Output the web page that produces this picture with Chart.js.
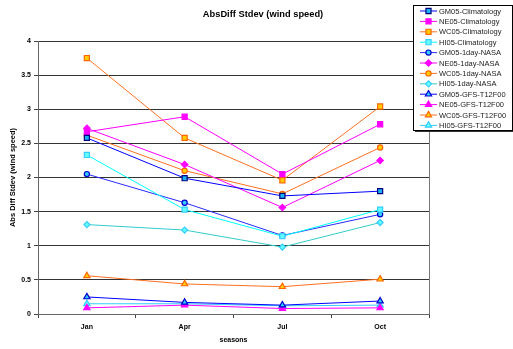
<!DOCTYPE html>
<html>
<head>
<meta charset="utf-8">
<script src="https://cdn.jsdelivr.net/npm/chart.js@4/dist/chart.umd.min.js"></script>
<style>
  html, body { margin: 0; padding: 0; background: #fff; }
  #wrap { width: 513px; height: 349px; }
</style>
</head>
<body>
<div id="wrap"><canvas id="c" width="513" height="349"></canvas></div>
<script>
// Seasons on the x axis
const seasons = ['Jan', 'Apr', 'Jul', 'Oct'];
const yTicks = [0, 0.5, 1, 1.5, 2, 2.5, 3, 3.5, 4];

// Abs diff stdev of wind speed per region / source
const gm05Clim = [2.58, 1.99, 1.73, 1.80];
const ne05Clim = [2.67, 2.89, 2.05, 2.78];
const wc05Clim = [3.75, 2.58, 1.96, 3.04];
const hi05Clim = [2.33, 1.53, 1.14, 1.53];
const gm05Nasa = [2.05, 1.63, 1.15, 1.46];
const ne05Nasa = [2.72, 2.19, 1.56, 2.25];
const wc05Nasa = [2.62, 2.10, 1.76, 2.44];
const hi05Nasa = [1.31, 1.23, 0.98, 1.34];
const gm05Gfs = [0.25, 0.17, 0.13, 0.19];
const ne05Gfs = [0.09, 0.13, 0.08, 0.09];
const wc05Gfs = [0.56, 0.44, 0.40, 0.51];
const hi05Gfs = [0.15, 0.15, 0.12, 0.13];

const FONT = '"Liberation Sans", Arial, sans-serif';

function series(label, data, line, style, fill, edge, radius) {
  return {
    label, data,
    borderColor: line, borderWidth: 1,
    pointStyle: style, pointRadius: radius,
    pointBackgroundColor: fill, pointBorderColor: edge, pointBorderWidth: 1.2,
    tension: 0, fill: false
  };
}

const datasets = [
  series('GM05-Climatology', gm05Clim, '#0000ff', 'rect', '#1ab2f0', '#000080', 3.6),
  series('NE05-Climatology', ne05Clim, '#ff00ff', 'rect', '#ff00ff', '#ff00ff', 3.6),
  series('WC05-Climatology', wc05Clim, '#ff7020', 'rect', '#ffcc00', '#ff6600', 3.6),
  series('HI05-Climatology', hi05Clim, '#00ffff', 'rect', '#66ffff', '#33ccff', 3.6),
  series('GM05-1day-NASA', gm05Nasa, '#2a2aff', 'circle', '#33ccff', '#0000cc', 2.6),
  series('NE05-1day-NASA', ne05Nasa, '#ff00ff', 'rectRot', '#ff00ff', '#ff00ff', 3.2),
  series('WC05-1day-NASA', wc05Nasa, '#ff7020', 'circle', '#ffcc00', '#ff6600', 2.6),
  series('HI05-1day-NASA', hi05Nasa, '#33cccc', 'rectRot', '#66ffff', '#33ccff', 3.0),
  series('GM05-GFS-T12F00', gm05Gfs, '#0000ff', 'triangle', '#33ccff', '#0000cc', 3.6),
  series('NE05-GFS-T12F00', ne05Gfs, '#ff00ff', 'triangle', '#ff00ff', '#ff00ff', 3.6),
  series('WC05-GFS-T12F00', wc05Gfs, '#ff7020', 'triangle', '#ffcc00', '#ff6600', 3.6),
  series('HI05-GFS-T12F00', hi05Gfs, '#33ccff', 'triangle', '#66ffff', '#33ccff', 3.6)
];

// Chart heading
const headingPlugin = {
  id: 'heading',
  afterDraw(chart) {
    const ctx = chart.ctx;
    ctx.save();
    ctx.font = 'bold 9.3px ' + FONT;
    ctx.fillStyle = '#000';
    ctx.textAlign = 'center';
    ctx.textBaseline = 'middle';
    ctx.fillText('AbsDiff Stdev (wind speed)', 263, 14);
    ctx.restore();
  }
};

// Boxed series key in the upper right corner
const keyPlugin = {
  id: 'seriesKey',
  afterDraw(chart) {
    const ctx = chart.ctx;
    const x0 = 413, y0 = 5, w = 99, h = 125, row = 10.4;
    ctx.save();
    ctx.fillStyle = '#333';
    ctx.fillRect(x0 + 2, y0 + 2, w, h);
    ctx.fillStyle = '#fff';
    ctx.fillRect(x0, y0, w, h);
    ctx.strokeStyle = '#000';
    ctx.lineWidth = 1;
    ctx.strokeRect(x0 + 0.5, y0 + 0.5, w, h);
    chart.data.datasets.forEach((ds, i) => {
      const y = y0 + 6 + i * row;
      ctx.strokeStyle = ds.borderColor;
      ctx.lineWidth = 1;
      ctx.beginPath();
      ctx.moveTo(420, y);
      ctx.lineTo(437, y);
      ctx.stroke();
      ctx.fillStyle = ds.pointBackgroundColor;
      ctx.strokeStyle = ds.pointBorderColor;
      ctx.lineWidth = 1.2;
      Chart.helpers.drawPoint(ctx, {
        pointStyle: ds.pointStyle, radius: ds.pointRadius, borderWidth: 1.2, rotation: 0
      }, 428.5, y);
      ctx.fillStyle = '#222';
      ctx.font = '7.5px ' + FONT;
      ctx.textAlign = 'left';
      ctx.textBaseline = 'middle';
      ctx.fillText(ds.label, 439, y + 0.5);
    });
    ctx.restore();
  }
};

// Right-hand edge of the plot box
const frameRightPlugin = {
  id: 'plotFrame',
  beforeDatasetsDraw(chart) {
    const ctx = chart.ctx, a = chart.chartArea;
    ctx.save();
    ctx.strokeStyle = '#777';
    ctx.lineWidth = 1;
    ctx.beginPath();
    ctx.moveTo(Math.round(a.right) + 0.5, a.top);
    ctx.lineTo(Math.round(a.right) + 0.5, a.bottom);
    ctx.stroke();
    ctx.restore();
  }
};

new Chart(document.getElementById('c'), {
  type: 'line',
  data: { labels: seasons, datasets },
  plugins: [frameRightPlugin, headingPlugin, keyPlugin],
  options: {
    responsive: false,
    animation: false,
    devicePixelRatio: 1,
    layout: { padding: { top: 41, right: 84, left: 0, bottom: 0 } },
    plugins: {
      legend: { display: false },
      title: { display: false },
      tooltip: { enabled: false }
    },
    scales: {
      x: {
        type: 'category',
        offset: true,
        afterFit(scale) { scale.height = 35; },
        grid: {
          display: true, drawOnChartArea: false, drawTicks: true,
          tickLength: 4, color: '#444', offset: true
        },
        border: { display: true, color: '#666', width: 1 },
        ticks: {
          color: '#000', padding: 5,
          font: { family: FONT, size: 7, weight: 'bold' }
        },
        title: {
          display: true, text: 'seasons', color: '#000',
          padding: 5,
          font: { family: FONT, size: 7, weight: 'bold' }
        }
      },
      y: {
        min: 0, max: 4,
        afterFit(scale) { scale.width = 38; },
        afterBuildTicks(scale) { scale.ticks = yTicks.map(v => ({ value: v })); },
        grid: {
          color: '#333', lineWidth: 1, drawTicks: true, tickLength: 4, tickColor: '#444'
        },
        border: { display: true, color: '#666', width: 1 },
        ticks: {
          color: '#000', padding: 3,
          font: { family: FONT, size: 7, weight: 'bold' },
          callback: v => String(v)
        },
        title: {
          display: true, text: 'Abs Diff Stdev (wind speed)', color: '#000',
          padding: 8,
          font: { family: FONT, size: 7.5, weight: 'bold' }
        }
      }
    }
  }
});
</script>
</body>
</html>
